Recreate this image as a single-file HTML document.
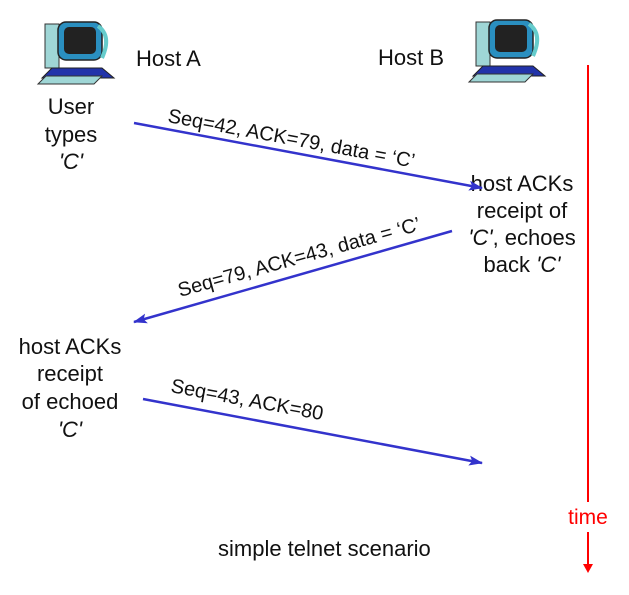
<!DOCTYPE html>
<html><head><meta charset="utf-8"><style>
html,body{margin:0;padding:0;background:#fff;}
svg{display:block;}
.c{font-family:"Liberation Sans",sans-serif;font-size:22px;fill:#111;}
.s{font-family:"Liberation Sans",sans-serif;font-size:20px;fill:#111;}
</style></head><body>
<svg width="629" height="595" viewBox="0 0 629 595" xmlns="http://www.w3.org/2000/svg">
<defs>
<g id="pc">
  <rect x="3" y="4" width="14" height="44" fill="#9fd6d6" stroke="#333" stroke-width="1"/>
  <rect x="16" y="2" width="44" height="38" rx="8" fill="#2a8fc0" stroke="#222" stroke-width="1.5"/>
  <rect x="22" y="7" width="32" height="27" rx="5" fill="#222"/>
  <path d="M56 6 q14 10 4 32" fill="none" stroke="#6cc" stroke-width="4"/>
  <polygon points="10,48 60,48 72,58 0,58" fill="#2233aa" stroke="#222"/>
  <polygon points="4,56 60,56 52,64 -4,64" fill="#9fd6d6" stroke="#333"/>
</g>
<marker id="ab" markerWidth="14" markerHeight="10" refX="13" refY="5" orient="auto" markerUnits="userSpaceOnUse">
  <polygon points="0,0 14,5 0,10 3,5" fill="#3333cc"/>
</marker>
</defs>
<use href="#pc" x="42" y="20"/>
<use href="#pc" x="473" y="18"/>
<text class="c" x="136" y="66">Host A</text>
<text class="c" x="378" y="65">Host B</text>

<text class="c" x="71" y="114" text-anchor="middle">User</text>
<text class="c" x="71" y="142" text-anchor="middle">types</text>
<text class="c" x="71" y="169" text-anchor="middle" font-style="italic">'C'</text>

<text class="c" x="522" y="191" text-anchor="middle">host ACKs</text>
<text class="c" x="522" y="218" text-anchor="middle">receipt of</text>
<text class="c" x="522" y="245" text-anchor="middle"><tspan font-style="italic">'C'</tspan>, echoes</text>
<text class="c" x="522" y="272" text-anchor="middle">back <tspan font-style="italic">'C'</tspan></text>

<text class="c" x="70" y="354" text-anchor="middle">host ACKs</text>
<text class="c" x="70" y="381" text-anchor="middle">receipt</text>
<text class="c" x="70" y="409" text-anchor="middle">of echoed</text>
<text class="c" x="70" y="437" text-anchor="middle" font-style="italic">'C'</text>

<line x1="134" y1="123" x2="482" y2="188" stroke="#3333cc" stroke-width="2.5" marker-end="url(#ab)"/>
<line x1="452" y1="231" x2="134" y2="322" stroke="#3333cc" stroke-width="2.5" marker-end="url(#ab)"/>
<line x1="143" y1="399" x2="482" y2="463" stroke="#3333cc" stroke-width="2.5" marker-end="url(#ab)"/>

<text class="s" transform="translate(167,122) rotate(10.5)">Seq=42, ACK=79, data = ‘C’</text>
<text class="s" transform="translate(180,297) rotate(-15.5)">Seq=79, ACK=43, data = ‘C’</text>
<text class="s" transform="translate(170,392) rotate(10.5)">Seq=43, ACK=80</text>

<line x1="588" y1="65" x2="588" y2="502" stroke="#ff0000" stroke-width="2"/>
<line x1="588" y1="532" x2="588" y2="566" stroke="#ff0000" stroke-width="2"/>
<polygon points="583,564 593,564 588,573" fill="#ff0000"/>
<text x="588" y="524" text-anchor="middle" font-family="Liberation Sans, sans-serif" font-size="21" fill="#ff0000">time</text>

<text class="c" x="218" y="556">simple telnet scenario</text>
</svg>
</body></html>
